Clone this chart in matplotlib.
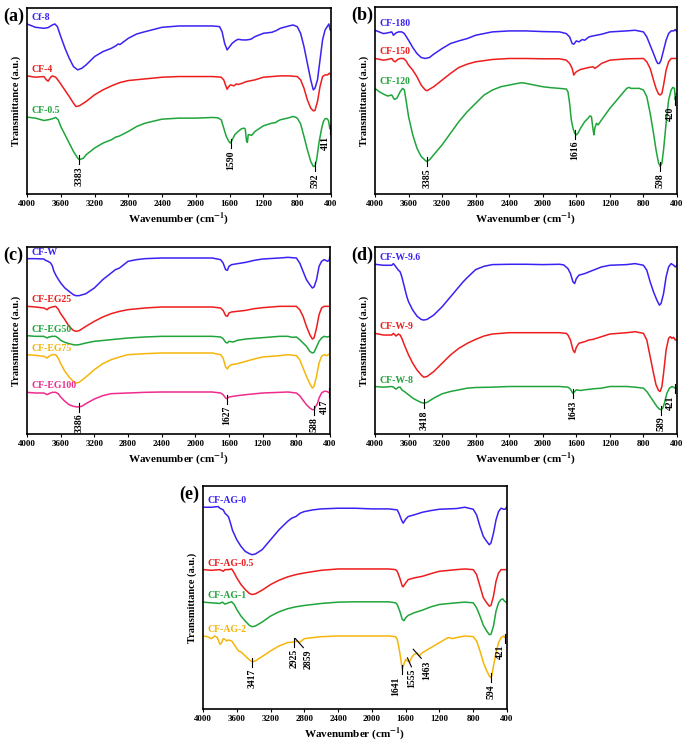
import numpy as np
import matplotlib.pyplot as plt

plt.rcParams['font.family'] = ['Liberation Serif', 'DejaVu Serif']
plt.rcParams['font.weight'] = 'bold'
plt.rcParams['mathtext.fontset'] = 'stix'

BLUE = '#3a22f2'
RED = '#ee1d1d'
GREEN = '#1fa53b'
ORANGE = '#f5b50a'
PINK = '#ee2b8e'

# --- (a) ---
cf8 = [(4000, 528), (3900, 518), (3800, 515), (3750, 517), (3700, 525), (3670, 528), (3640, 520), (3600, 490),
       (3550, 455), (3500, 425), (3450, 400), (3400, 390), (3350, 395), (3300, 405), (3200, 430), (3100, 445),
       (3000, 455), (2950, 462), (2920, 468), (2900, 466), (2800, 485), (2700, 498), (2600, 505), (2400, 518),
       (2200, 522), (2000, 522), (1800, 522), (1720, 520), (1690, 505), (1660, 470), (1630, 450), (1600, 460),
       (1570, 470), (1530, 478), (1500, 482), (1450, 480), (1400, 480), (1350, 482), (1300, 490), (1200, 500),
       (1100, 503), (1050, 508), (1000, 515), (900, 522), (850, 525), (800, 520), (760, 500), (720, 460),
       (680, 410), (640, 360), (610, 330), (590, 335), (560, 360), (530, 420), (500, 480), (470, 510),
       (440, 522), (425, 528), (410, 510), (400, 508)]
cf4 = [(4000, 372), (3900, 368), (3800, 370), (3770, 360), (3750, 356), (3720, 368), (3700, 372), (3660, 368),
       (3620, 355), (3580, 340), (3500, 310), (3450, 290), (3420, 280), (3380, 282), (3300, 295), (3200, 315),
       (3100, 330), (3000, 342), (2900, 352), (2800, 358), (2600, 363), (2400, 368), (2200, 370), (2000, 370),
       (1800, 370), (1700, 368), (1670, 360), (1650, 345), (1630, 332), (1610, 340), (1590, 345), (1550, 342),
       (1520, 348), (1500, 346), (1450, 350), (1400, 355), (1300, 360), (1200, 368), (1100, 370), (1000, 372),
       (900, 372), (800, 370), (760, 360), (720, 335), (680, 300), (640, 275), (610, 267), (590, 268),
       (560, 295), (530, 340), (500, 370), (470, 375), (440, 375), (420, 380), (400, 375)]
cf05 = [(4000, 248), (3900, 245), (3800, 238), (3750, 240), (3700, 243), (3660, 247), (3630, 240), (3600, 220),
        (3550, 195), (3500, 170), (3450, 145), (3400, 125), (3380, 120), (3330, 125), (3300, 135), (3200, 155),
        (3100, 170), (3000, 180), (2950, 188), (2920, 190), (2900, 192), (2800, 205), (2700, 220), (2600, 230),
        (2400, 242), (2200, 245), (2000, 245), (1800, 247), (1740, 246), (1700, 240), (1670, 215), (1640, 190),
        (1610, 175), (1590, 170), (1570, 180), (1540, 195), (1500, 205), (1460, 213), (1430, 215), (1415, 212),
        (1400, 175), (1390, 172), (1380, 195), (1360, 195), (1340, 193), (1300, 205), (1200, 222), (1100, 230),
        (1050, 232), (1040, 235), (1000, 240), (900, 246), (850, 250), (820, 248), (800, 245), (760, 228),
        (720, 190), (680, 150), (640, 115), (610, 100), (592, 100), (570, 120), (540, 175), (510, 215),
        (490, 235), (470, 243), (450, 244), (430, 238), (415, 215), (411, 213), (400, 218)]
peaks_a = [3383, 1590, 592, 411]

# --- (b) ---
cf180 = [(4000, 510), (3900, 500), (3850, 502), (3800, 505), (3780, 495), (3750, 502), (3720, 505), (3680, 505),
         (3650, 500), (3600, 480), (3550, 458), (3500, 440), (3450, 428), (3400, 425), (3350, 428), (3300, 438),
         (3200, 455), (3100, 470), (3000, 478), (2900, 485), (2800, 495), (2600, 505), (2400, 508), (2200, 508),
         (2000, 506), (1800, 505), (1720, 500), (1680, 490), (1650, 470), (1630, 468), (1600, 478), (1570, 475),
         (1530, 482), (1500, 480), (1450, 490), (1400, 493), (1300, 498), (1200, 505), (1000, 508), (900, 510),
         (800, 505), (760, 490), (720, 465), (680, 440), (650, 420), (630, 410), (610, 410), (590, 420),
         (560, 450), (530, 480), (500, 500), (470, 508), (440, 508), (420, 512), (400, 505)]
cf150 = [(4000, 425), (3900, 420), (3850, 422), (3800, 425), (3780, 418), (3760, 415), (3730, 422), (3700, 425),
         (3660, 425), (3630, 418), (3600, 405), (3550, 390), (3500, 370), (3450, 345), (3400, 330), (3380, 328),
         (3300, 340), (3200, 360), (3100, 380), (3000, 398), (2900, 408), (2800, 415), (2600, 422), (2400, 425),
         (2200, 425), (2000, 424), (1800, 424), (1720, 420), (1680, 410), (1650, 395), (1630, 375), (1610, 383),
         (1580, 388), (1550, 392), (1500, 395), (1450, 398), (1400, 400), (1380, 395), (1350, 400), (1300, 410),
         (1200, 420), (1000, 424), (800, 425), (760, 415), (720, 395), (680, 360), (650, 335), (620, 318),
         (600, 315), (580, 320), (560, 345), (530, 390), (500, 415), (470, 425), (440, 425), (400, 425)]
cf120 = [(4000, 335), (3950, 325), (3900, 318), (3850, 312), (3800, 315), (3770, 302), (3740, 305), (3700, 325),
         (3670, 335), (3650, 330), (3630, 300), (3600, 250), (3550, 195), (3500, 155), (3450, 130), (3400, 118),
         (3385, 115), (3350, 120), (3300, 135), (3200, 165), (3100, 200), (3000, 235), (2900, 265), (2800, 290),
         (2700, 315), (2600, 330), (2500, 340), (2400, 345), (2300, 350), (2250, 352), (2200, 350), (2100, 345),
         (2000, 340), (1900, 337), (1800, 335), (1720, 333), (1700, 325), (1680, 290), (1660, 240), (1640, 215),
         (1620, 200), (1600, 195), (1580, 200), (1550, 215), (1500, 235), (1460, 245), (1440, 252), (1420, 250),
         (1400, 210), (1390, 195), (1380, 215), (1360, 230), (1340, 225), (1300, 240), (1200, 275), (1100, 305),
         (1050, 320), (1000, 335), (970, 338), (950, 335), (900, 335), (850, 335), (800, 330), (760, 310),
         (720, 260), (680, 200), (650, 150), (620, 110), (600, 100), (580, 110), (560, 150), (530, 230),
         (500, 300), (470, 330), (450, 338), (430, 335), (420, 300), (410, 320), (400, 318)]
peaks_b = [3385, 1616, 598, 420]

# --- (c) ---
cfw = [(4000, 543), (3900, 543), (3800, 542), (3780, 538), (3750, 535), (3720, 530), (3700, 522), (3680, 505),
       (3650, 490), (3600, 470), (3550, 455), (3500, 445), (3450, 435), (3420, 432), (3380, 432), (3300, 438),
       (3200, 455), (3100, 480), (3000, 500), (2950, 510), (2900, 515), (2850, 525), (2800, 535), (2700, 540),
       (2600, 543), (2400, 545), (2200, 545), (2000, 545), (1800, 545), (1700, 540), (1670, 530), (1640, 510),
       (1620, 508), (1600, 520), (1570, 525), (1500, 528), (1400, 532), (1300, 538), (1200, 542), (1000, 545),
       (900, 547), (800, 545), (760, 530), (720, 505), (680, 480), (640, 465), (610, 455), (590, 458),
       (560, 480), (530, 520), (500, 535), (470, 540), (450, 538), (430, 535), (410, 538), (400, 550)]
cfeg25 = [(4000, 400), (3900, 398), (3800, 395), (3760, 390), (3740, 395), (3700, 398), (3660, 400), (3630, 392),
          (3600, 378), (3550, 360), (3500, 340), (3450, 328), (3420, 325), (3380, 327), (3300, 340), (3200, 355),
          (3100, 368), (3000, 378), (2900, 385), (2800, 390), (2600, 395), (2400, 398), (2200, 398), (2000, 398),
          (1800, 398), (1700, 395), (1670, 388), (1640, 372), (1620, 370), (1600, 380), (1570, 383), (1500, 385),
          (1400, 388), (1300, 393), (1200, 396), (1000, 400), (900, 400), (800, 400), (760, 390), (720, 370),
          (680, 340), (640, 315), (610, 302), (590, 305), (560, 335), (530, 375), (500, 395), (470, 400),
          (440, 400), (400, 400)]
cfeg50 = [(4000, 312), (3900, 310), (3800, 310), (3760, 305), (3740, 308), (3700, 310), (3660, 310), (3630, 305),
          (3600, 298), (3550, 292), (3500, 288), (3450, 285), (3420, 284), (3380, 285), (3300, 290), (3200, 295),
          (3000, 300), (2800, 305), (2600, 308), (2400, 310), (2000, 310), (1800, 310), (1700, 308), (1670, 303),
          (1640, 292), (1620, 290), (1600, 295), (1550, 293), (1500, 298), (1400, 302), (1200, 306), (1000, 310),
          (900, 310), (850, 307), (800, 308), (760, 300), (720, 290), (680, 280), (640, 265), (610, 260),
          (590, 262), (560, 278), (530, 295), (500, 305), (470, 310), (440, 308), (400, 310)]
cfeg75 = [(4000, 255), (3900, 253), (3800, 250), (3760, 245), (3740, 250), (3700, 255), (3660, 255), (3630, 245),
          (3600, 228), (3550, 205), (3500, 188), (3450, 175), (3420, 170), (3380, 172), (3300, 188), (3200, 210),
          (3100, 228), (3000, 240), (2900, 248), (2800, 255), (2600, 258), (2400, 260), (2200, 260), (2000, 260),
          (1800, 260), (1700, 255), (1670, 245), (1640, 218), (1620, 212), (1600, 220), (1570, 225), (1500, 228),
          (1400, 235), (1300, 242), (1200, 248), (1000, 252), (900, 255), (800, 252), (760, 240), (720, 215),
          (680, 190), (640, 168), (610, 155), (590, 160), (560, 190), (530, 230), (500, 250), (470, 255),
          (440, 252), (400, 258)]
cfeg100 = [(4000, 142), (3900, 140), (3800, 140), (3760, 135), (3740, 138), (3700, 142), (3660, 142), (3630, 138),
           (3600, 128), (3550, 115), (3500, 105), (3450, 100), (3400, 98), (3350, 100), (3300, 108), (3200, 122),
           (3100, 132), (3000, 138), (2800, 140), (2600, 142), (2400, 143), (2000, 143), (1800, 143), (1700, 140),
           (1670, 135), (1640, 125), (1627, 123), (1600, 128), (1550, 130), (1500, 132), (1400, 135), (1200, 140),
           (1000, 142), (900, 143), (800, 140), (760, 132), (720, 118), (680, 105), (640, 95), (610, 90),
           (588, 90), (570, 100), (550, 108), (530, 125), (500, 140), (470, 145), (440, 145), (417, 142), (400, 140)]
peaks_c = [3386, 1627, 588, 417]

# --- (d) ---
cfw96 = [(4000, 528), (3900, 525), (3800, 525), (3780, 530), (3750, 520), (3720, 510), (3700, 505), (3680, 490),
         (3650, 460), (3620, 430), (3600, 415), (3550, 390), (3500, 372), (3450, 362), (3420, 360), (3380, 362),
         (3300, 375), (3200, 400), (3100, 430), (3000, 460), (2950, 475), (2900, 488), (2850, 500), (2800, 512),
         (2700, 522), (2600, 527), (2400, 528), (2200, 528), (2000, 527), (1800, 528), (1750, 526), (1700, 515),
         (1670, 500), (1640, 475), (1620, 470), (1600, 485), (1570, 495), (1500, 500), (1450, 505), (1400, 510),
         (1300, 520), (1200, 525), (1000, 527), (900, 530), (800, 525), (760, 510), (720, 475), (680, 445),
         (640, 420), (610, 405), (590, 410), (560, 440), (530, 490), (500, 520), (470, 530), (440, 525),
         (420, 520), (400, 525)]
cfw9 = [(4000, 320), (3900, 315), (3800, 315), (3780, 320), (3750, 312), (3720, 318), (3700, 315), (3680, 305),
        (3650, 285), (3600, 255), (3550, 230), (3500, 210), (3450, 195), (3420, 188), (3380, 190), (3300, 205),
        (3200, 230), (3100, 255), (3000, 275), (2900, 290), (2800, 302), (2700, 312), (2600, 318), (2400, 322),
        (2200, 322), (2000, 322), (1800, 322), (1720, 320), (1700, 315), (1670, 300), (1640, 270), (1620, 262),
        (1600, 278), (1570, 290), (1500, 295), (1450, 300), (1400, 302), (1300, 310), (1200, 318), (1000, 322),
        (900, 325), (800, 320), (760, 300), (720, 250), (680, 200), (650, 165), (620, 148), (600, 145),
        (580, 160), (560, 200), (530, 270), (500, 305), (480, 310), (460, 305), (440, 308), (420, 300), (400, 300)]
cfw8 = [(4000, 160), (3900, 158), (3800, 160), (3780, 158), (3750, 152), (3720, 158), (3700, 158), (3680, 150),
        (3650, 145), (3600, 135), (3550, 125), (3500, 118), (3450, 112), (3418, 110), (3380, 112), (3300, 125),
        (3200, 138), (3100, 145), (3000, 150), (2900, 155), (2800, 157), (2600, 158), (2400, 160), (2000, 160),
        (1800, 160), (1700, 158), (1670, 152), (1643, 140), (1620, 145), (1600, 150), (1550, 148), (1500, 150),
        (1400, 153), (1300, 155), (1200, 160), (1000, 160), (900, 158), (800, 155), (760, 145), (720, 130),
        (680, 115), (640, 100), (610, 92), (590, 90), (570, 95), (550, 110), (520, 140), (490, 155),
        (460, 160), (440, 158), (421, 155), (400, 155)]
peaks_d = [3418, 1643, 589, 421]

# --- (e) ---
cfag0 = [(4000, 618), (3900, 618), (3820, 620), (3800, 615), (3760, 610), (3740, 600), (3720, 595), (3700, 590),
         (3680, 575), (3650, 548), (3600, 520), (3550, 500), (3500, 485), (3450, 478), (3420, 475), (3380, 477),
         (3300, 490), (3200, 520), (3100, 550), (3000, 575), (2950, 585), (2900, 590), (2850, 600), (2800, 605),
         (2700, 610), (2600, 613), (2400, 615), (2200, 615), (2000, 613), (1800, 613), (1700, 610), (1680, 600),
         (1650, 580), (1630, 570), (1600, 582), (1570, 590), (1500, 595), (1400, 603), (1300, 608), (1200, 612),
         (1000, 614), (900, 618), (800, 612), (760, 595), (720, 560), (680, 530), (640, 515), (610, 505),
         (590, 510), (560, 540), (530, 580), (500, 605), (470, 615), (440, 612), (420, 612), (400, 620)]
cfag05 = [(4000, 430), (3900, 428), (3800, 430), (3760, 425), (3740, 430), (3700, 430), (3660, 432), (3630, 420),
          (3600, 405), (3550, 385), (3500, 370), (3450, 358), (3420, 355), (3380, 357), (3300, 368), (3200, 385),
          (3100, 398), (3000, 408), (2900, 415), (2800, 420), (2600, 428), (2400, 432), (2200, 432), (2000, 432),
          (1800, 432), (1720, 430), (1700, 425), (1670, 405), (1640, 380), (1630, 378), (1600, 390), (1570, 400),
          (1500, 405), (1400, 410), (1300, 418), (1200, 425), (1000, 430), (900, 432), (800, 430), (760, 415),
          (720, 380), (680, 345), (640, 330), (610, 320), (590, 322), (560, 350), (530, 395), (500, 420),
          (470, 430), (440, 430), (400, 430)]
cfag1 = [(4000, 332), (3900, 330), (3800, 328), (3770, 332), (3740, 326), (3700, 330), (3660, 333), (3630, 325),
         (3600, 310), (3550, 290), (3500, 275), (3450, 262), (3420, 258), (3380, 260), (3300, 272), (3200, 290),
         (3100, 303), (3000, 312), (2900, 318), (2800, 322), (2600, 328), (2400, 332), (2200, 333), (2000, 333),
         (1800, 333), (1720, 330), (1700, 325), (1670, 305), (1640, 280), (1620, 276), (1600, 285), (1570, 292),
         (1500, 300), (1400, 308), (1300, 318), (1200, 325), (1000, 330), (900, 332), (800, 330), (760, 315),
         (720, 290), (680, 262), (640, 245), (610, 234), (590, 235), (560, 260), (530, 305), (500, 330),
         (470, 340), (450, 342), (430, 335), (400, 330)]
cfag2 = [(4000, 230), (3950, 228), (3900, 222), (3860, 230), (3830, 225), (3800, 205), (3780, 210), (3760, 222),
         (3740, 220), (3720, 215), (3700, 218), (3660, 215), (3620, 200), (3580, 185), (3550, 182), (3500, 170),
         (3450, 158), (3417, 152), (3380, 155), (3300, 168), (3200, 185), (3100, 200), (3000, 210), (2925, 212),
         (2880, 215), (2859, 210), (2800, 222), (2600, 228), (2400, 230), (2200, 230), (2000, 230), (1800, 230),
         (1720, 228), (1700, 220), (1680, 195), (1660, 165), (1641, 130), (1620, 145), (1600, 160), (1580, 155),
         (1555, 152), (1530, 165), (1500, 175), (1463, 178), (1440, 170), (1400, 180), (1300, 195), (1200, 210),
         (1100, 225), (1080, 225), (1050, 222), (1000, 225), (900, 230), (800, 228), (760, 215), (720, 185),
         (680, 150), (640, 125), (610, 110), (594, 105), (580, 110), (560, 140), (530, 180), (500, 210),
         (470, 225), (440, 230), (421, 225), (400, 228)]
peaks_e = [3417, 2925, 2859, 1641, 1555, 1463, 594, 421]

# label nudges in pixels: (text dx, line slant dx)
nudge = {2859: (9, 4), 1463: (9, 4), 1641: (-6, 0), 1555: (2, 2)}

W, H = 688, 741
fig = plt.figure(figsize=(W / 100, H / 100), dpi=100)


def panel(box, tag, curves, ylim, peaks):
    l, t, r, b = box
    ax = fig.add_axes([l / W, 1 - b / H, (r - l) / W, (b - t) / H])
    dy = (ylim[1] - ylim[0]) / (b - t)  # data units per pixel
    dx = 3600 / (r - l)
    for name, pts, color in curves:
        wn, tr = np.array(pts, dtype=float).T
        ax.plot(wn, tr, color=color, lw=1.1)
        ax.text(3950, tr[0] + 6.5 * dy, name, color=color, fontsize=7, fontweight='bold',
                va='center', ha='left')
    # peak markers on the lowest curve
    wn, tr = np.array(curves[-1][1], dtype=float).T
    for p in peaks:
        yv = np.interp(p, wn[::-1], tr[::-1])
        tdx, sl = nudge.get(p, (0, 0))
        ax.plot([p + sl * dx, p - sl * dx], [yv + 4 * dy, yv - 5 * dy], color='black', lw=0.8)
        ax.text(p - tdx * dx, yv - 7 * dy, str(p), rotation=90, va='top',
                ha='right' if p < 450 else 'center', fontsize=7, fontweight='bold')
    ax.set_xlim(4000, 400)
    ax.set_ylim(*ylim)
    ax.set_xticks(range(4000, 399, -400))
    ax.set_yticks([])
    ax.tick_params(axis='x', direction='out', length=2.5, width=0.8, labelsize=6.5, pad=1.5)
    for s in ax.spines.values():
        s.set_linewidth(1.2)
    ax.set_xlabel('Wavenumber (cm$^{\\mathbf{-1}}$)', fontsize=8, fontweight='bold', labelpad=2)
    ax.set_ylabel('Transmittance (a.u.)', fontsize=7.5, fontweight='bold', labelpad=4)
    fig.text((l - 24) / W, 1 - (t + 8) / H, tag, fontsize=13, fontweight='bold', va='center', ha='left')
    return ax


panel((27, 8, 331, 194), '(a)', [('Cf-8', cf8, BLUE), ('CF-4', cf4, RED), ('CF-0.5', cf05, GREEN)],
      (17, 576), peaks_a)
panel((375, 7, 677, 194), '(b)', [('CF-180', cf180, BLUE), ('CF-150', cf150, RED), ('CF-120', cf120, GREEN)],
      (17, 580), peaks_b)
panel((27, 247, 330, 434), '(c)', [('CF-W', cfw, BLUE), ('CF-EG25', cfeg25, RED), ('CF-EG50', cfeg50, GREEN),
                                   ('CF-EG75', cfeg75, ORANGE), ('CF-EG100', cfeg100, PINK)],
      (17, 578), peaks_c)
panel((375, 247, 677, 434), '(d)', [('CF-W-9.6', cfw96, BLUE), ('CF-W-9', cfw9, RED), ('CF-W-8', cfw8, GREEN)],
      (17, 580), peaks_d)
panel((203, 486, 507, 709), '(e)', [('CF-AG-0', cfag0, BLUE), ('CF-AG-0.5', cfag05, RED),
                                    ('CF-AG-1', cfag1, GREEN), ('CF-AG-2', cfag2, ORANGE)],
      (10, 682), peaks_e)

fig.savefig('out.png', dpi=100)
